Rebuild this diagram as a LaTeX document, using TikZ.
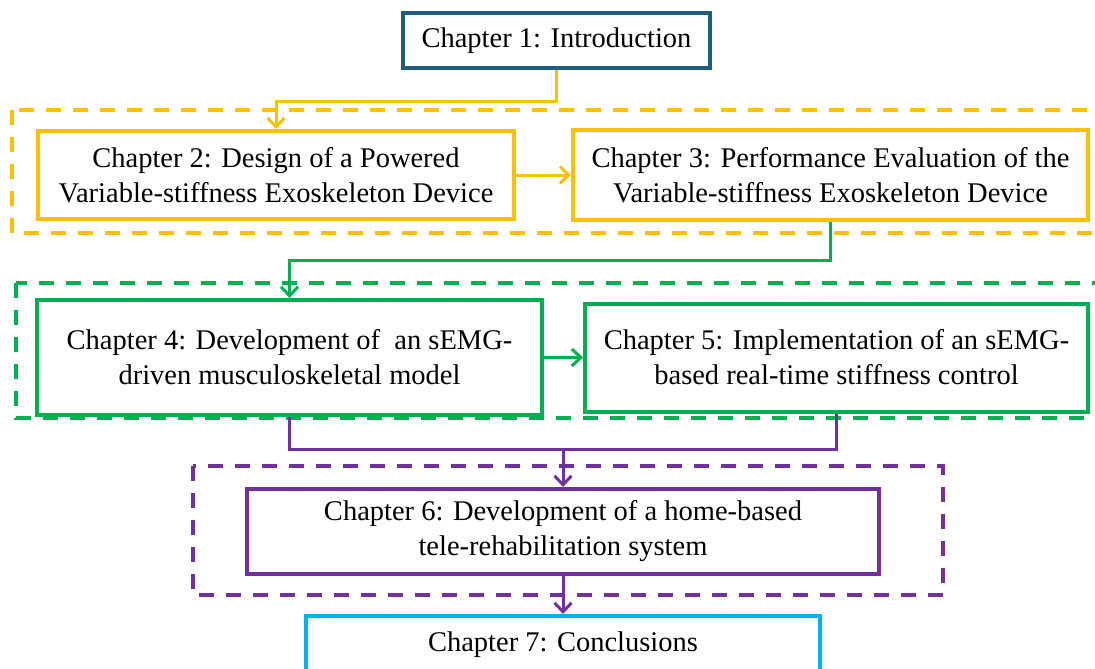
\documentclass[tikz,border=0pt]{standalone}
\usepackage{fontspec}
\setmainfont{Liberation Serif}
\usetikzlibrary{positioning,arrows.meta}

\definecolor{chblue}{RGB}{31,95,125}
\definecolor{chyellow}{RGB}{255,192,0}
\definecolor{chgreen}{RGB}{0,176,80}
\definecolor{chpurple}{RGB}{112,48,160}
\definecolor{chcyan}{RGB}{0,176,240}

\begin{document}
\begin{tikzpicture}[x=1pt,y=-1pt,
	every node/.style={font=\fontsize{28.5}{35}\selectfont},
	chapter/.style={draw=#1,line width=4pt,align=center,inner sep=0pt,fill=white,text=black},
	link/.style={line width=3pt,-{Straight Barb[length=9pt,width=17pt]}},
	chapgroup/.style={line width=4pt,dash pattern=on 15pt off 12pt}]

\useasboundingbox (0,0) rectangle (1095,669);

% dashed frames round the parts
\draw[chapgroup,chyellow] (12,110) rectangle (1115,233);
\draw[chapgroup,chgreen] (16,283) rectangle (1115,418);
\draw[chapgroup,chpurple] (193,466) rectangle (943,595);

\node[chapter=chblue,minimum width=307,minimum height=55] (ch1) at (556.5,40.5) {Chapter 1: Introduction};

\node[chapter=chyellow,minimum width=476,minimum height=88] (ch2) at (276,175) {Chapter 2: Design of a Powered\\Variable-stiffness Exoskeleton Device};
\node[chapter=chyellow,minimum width=515,minimum height=90,right=55pt of ch2] (ch3) {Chapter 3: Performance Evaluation of the\\Variable-stiffness Exoskeleton Device};

\node[chapter=chgreen,minimum width=505,minimum height=115] (ch4) at (289.5,357.5) {Chapter 4: Development of \ an sEMG-\\driven musculoskeletal model};
\node[chapter=chgreen,minimum width=503,minimum height=108,right=39pt of ch4] (ch5) {Chapter 5: Implementation of an sEMG-\\based real-time stiffness control};

\node[chapter=chpurple,minimum width=632,minimum height=85] (ch6) at (563,531.5) {Chapter 6: Development of a home-based\\tele-rehabilitation system};
\node[chapter=chcyan,minimum width=514,minimum height=58,below=38pt of ch6] (ch7) {Chapter 7: Conclusions};

\coordinate (join) at (563,449);   % where chapters 4 and 5 meet

\draw[link,chyellow] (ch1.south) -- ++(0,31) -| (ch2.north);
\draw[link,chyellow] (ch2) -- (ch3);

\draw[link,chgreen] (ch3.south) -- ++(0,38) -| (ch4.north);
\draw[link,chgreen] (ch4) -- (ch5);

\draw[line width=3pt,chpurple] (ch4.south) |- (join) -| (ch5.south);
\draw[link,chpurple] (join) -- (ch6.north);
\draw[link,chpurple] (ch6) -- (ch7);

\end{tikzpicture}
\end{document}
